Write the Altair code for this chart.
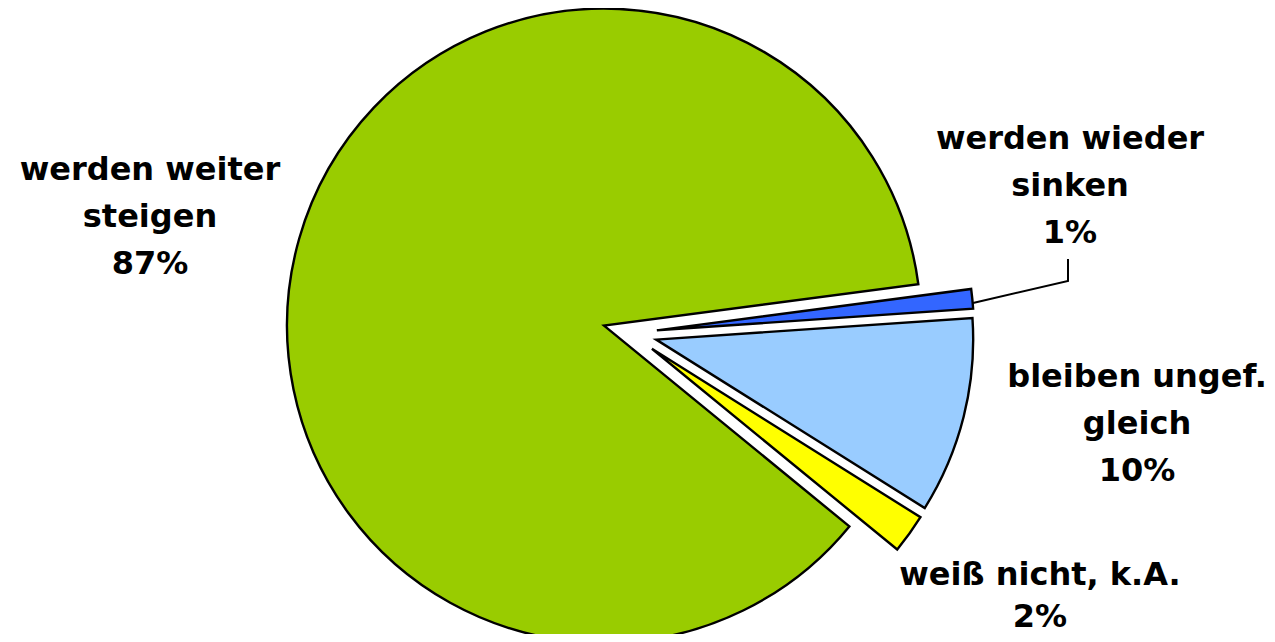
import math
import altair as alt
import pandas as pd

# ---- data ----
categories = ["werden wieder sinken", "bleiben ungef. gleich", "weiß nicht, k.A.", "werden weiter steigen"]
values = [1, 10, 2, 87]
label_text = ["werden wieder\nsinken", "bleiben ungef.\ngleich", "weiß nicht, k.A.", "werden weiter\nsteigen"]
colors = ["#3366FF", "#99CCFF", "#FFFF00", "#99CC00"]

# ---- layout (positions / styles) ----
CX, CY = 622, 325          # pie centre (chart px)
EXPLODE = 27               # explode distance px
R = 317                    # radius px
START = math.radians(82.5) # start angle of first slice (clockwise from 12 o'clock)
label_x = [1062, 1129, 1032, 142]
label_y = [141, 379, 577, 172]
label_lh = [47, 47, 42, 47]
leader_x = [1060, 1060, 965]
leader_y = [251, 273, 295]

W, H = 1259, 626

df = pd.DataFrame({
    "category": categories,
    "value": values,
    "order": list(range(len(values))),
})

pie = (
    alt.Chart(df)
    .transform_window(cum="sum(value)", sort=[alt.SortField("order")], frame=[None, 0])
    .transform_joinaggregate(total="sum(value)")
    .transform_calculate(
        t0=f"{START} + 2*PI*(datum.cum - datum.value)/datum.total",
        t1=f"{START} + 2*PI*datum.cum/datum.total",
    )
    .transform_calculate(mid="(datum.t0 + datum.t1)/2")
    .transform_calculate(
        px=f"{CX} + {EXPLODE}*sin(datum.mid)",
        py=f"{CY} - {EXPLODE}*cos(datum.mid)",
    )
    .mark_arc(outerRadius=R, stroke="black", strokeWidth=2.4, strokeJoin="miter")
    .encode(
        theta=alt.Theta("t0:Q", scale=None),
        theta2="t1:Q",
        x=alt.X("px:Q", scale=None, axis=None),
        y=alt.Y("py:Q", scale=None, axis=None),
        color=alt.Color("category:N", scale=alt.Scale(domain=categories, range=colors), legend=None),
        order=alt.Order("order:Q"),
    )
)

layers = [pie]

leader_df = pd.DataFrame({"x": leader_x, "y": leader_y, "o": [0, 1, 2]})
leader = (
    alt.Chart(leader_df)
    .mark_line(color="black", strokeWidth=2)
    .encode(
        x=alt.X("x:Q", scale=None, axis=None),
        y=alt.Y("y:Q", scale=None, axis=None),
        order="o:Q",
    )
)
layers.append(leader)

for t, v, lx, ly, lh in zip(label_text, values, label_x, label_y, label_lh):
    ldf = pd.DataFrame({"text": [f"{t}\n{v}%"], "lx": [lx], "ly": [ly]})
    layers.append(
        alt.Chart(ldf)
        .mark_text(font="DejaVu Sans", fontWeight="bold", fontSize=32, lineBreak="\n",
                   lineHeight=lh, align="center", baseline="alphabetic", color="black")
        .encode(
            x=alt.X("lx:Q", scale=None, axis=None),
            y=alt.Y("ly:Q", scale=None, axis=None),
            text="text:N",
        )
    )

chart = (
    alt.layer(*layers)
    .properties(width=W, height=H, autosize=alt.AutoSizeParams(type="none"), padding=0, background="white")
    .configure_view(stroke=None)
)

chart.save("out.html", embed_options={"renderer": "svg", "actions": False})
